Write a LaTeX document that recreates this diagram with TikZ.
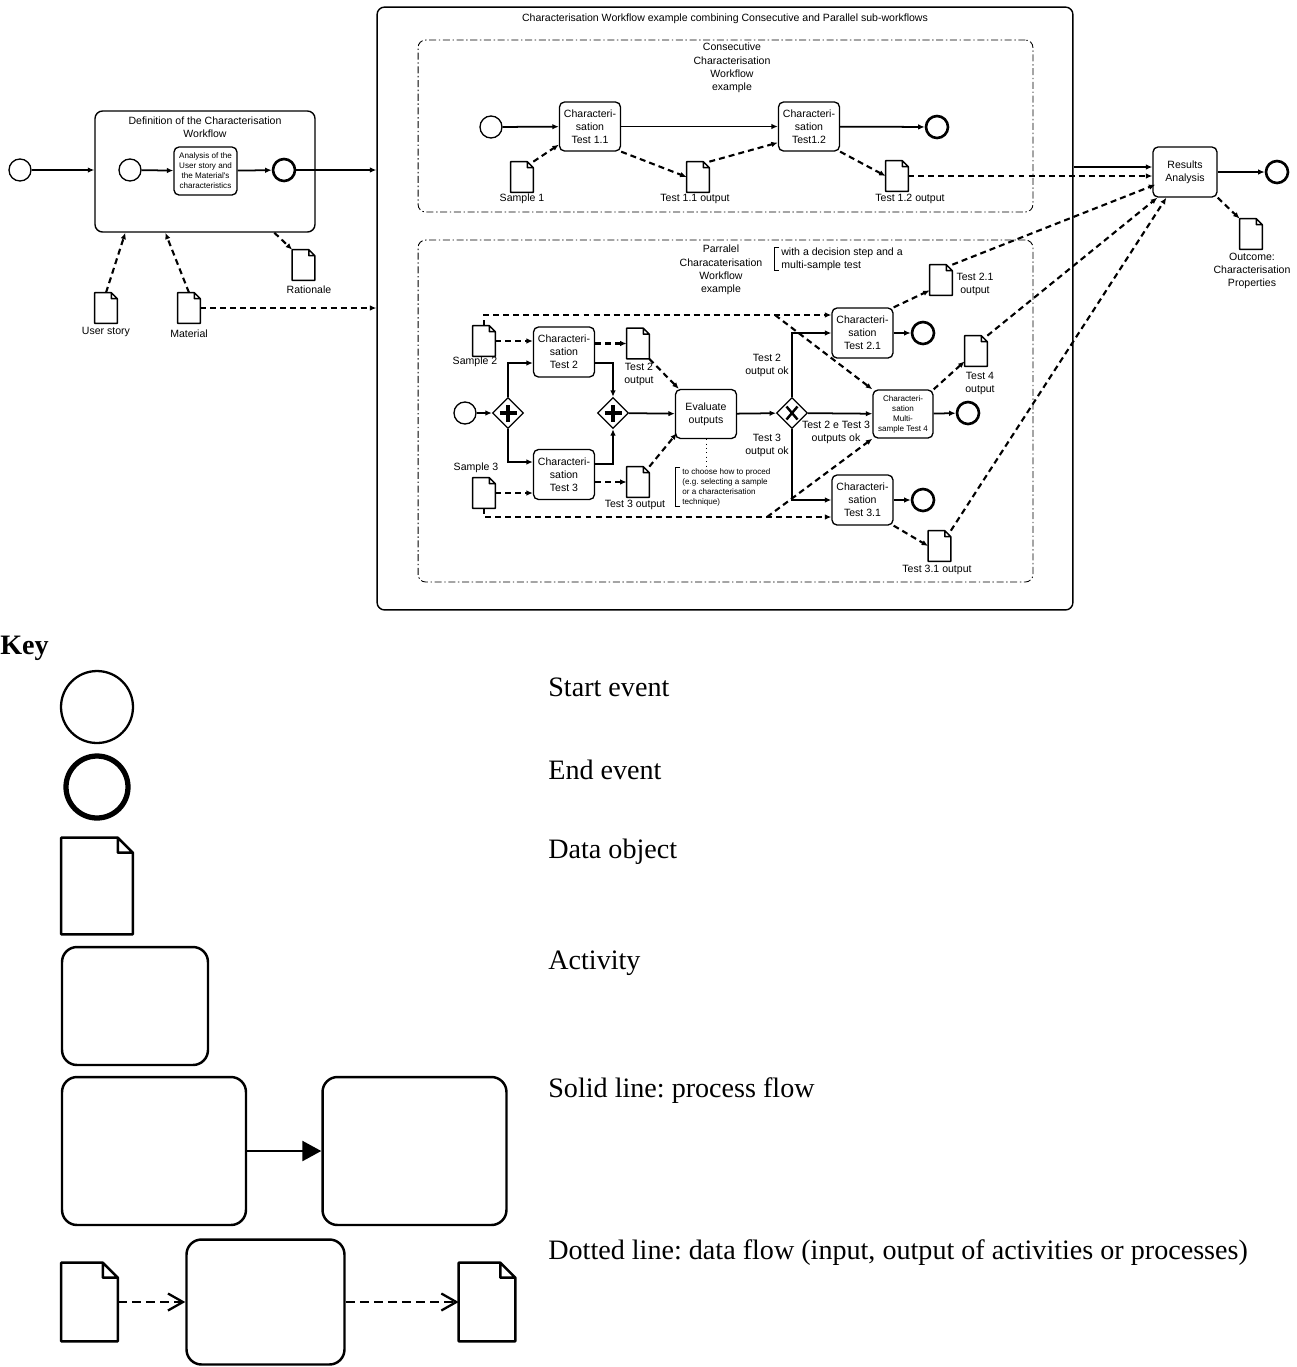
\documentclass[tikz,border=0pt]{standalone}
\usepackage{fontspec}
\setmainfont{Liberation Serif}
\newfontfamily\diagfont{Liberation Sans}
\usetikzlibrary{arrows.meta,positioning,calc,shapes.geometric}
\frenchspacing

\newcommand{\docshape}[3]{%
  \draw[line width=#3,line join=round] (#1.south west) -- (#1.north west)
    -- ([xshift=-#2]#1.north east) -- ([yshift=-#2]#1.north east)
    -- (#1.south east) -- cycle
    ([xshift=-#2]#1.north east) |- ([yshift=-#2]#1.north east);}

\tikzset{
  txt/.style={font=\diagfont\fontsize{6}{7.5}\selectfont,align=center,inner sep=0pt},
  smalltxt/.style={font=\diagfont\fontsize{4.6}{5.7}\selectfont,inner sep=0pt},
  act/.style={txt,draw,line width=.75pt,rounded corners=1mm,inner sep=1pt,minimum width=1.22cm,minimum height=.98cm},
  startev/.style={circle,draw,line width=.75pt,minimum size=.44cm,inner sep=0pt},
  endev/.style={startev,line width=1.5pt},
  gate/.style={diamond,draw,line width=.75pt,minimum size=.62cm,inner sep=0pt},
  andgate/.style={gate,path picture={\draw[line width=1.8pt]
    ([xshift=-1.7mm]path picture bounding box.center) -- ([xshift=1.7mm]path picture bounding box.center)
    ([yshift=-1.7mm]path picture bounding box.center) -- ([yshift=1.7mm]path picture bounding box.center);}},
  xorgate/.style={gate,path picture={\draw[line width=1.4pt]
    ([shift={(-1.1mm,-1.3mm)}]path picture bounding box.center) -- ([shift={(1.1mm,1.3mm)}]path picture bounding box.center)
    ([shift={(-1.1mm,1.3mm)}]path picture bounding box.center) -- ([shift={(1.1mm,-1.3mm)}]path picture bounding box.center);}},
  doc/.style={inner sep=0pt,minimum width=.44cm,minimum height=.6cm,
    append after command={\pgfextra{\docshape{\tikzlastnode}{1.2mm}{.8pt}}}},
  keydoc/.style={inner sep=0pt,
    append after command={\pgfextra{\docshape{\tikzlastnode}{3mm}{1.4pt}}}},
  frame/.style={draw,line width=.8pt,rounded corners=1.5mm,inner sep=0pt},
  subwf/.style={draw,line width=.5pt,rounded corners=1.5mm,inner sep=0pt,dash pattern=on 4pt off 1.5pt on .8pt off 1.5pt},
  keyact/.style={draw,line width=1.4pt,rounded corners=3mm,inner sep=0pt},
  keytxt/.style={anchor=west,inner sep=0pt,font=\fontsize{16}{19}\selectfont},
}

\begin{document}
\begin{tikzpicture}[x=0.02cm,y=-0.02cm,
  flow/.style={-{Latex[length=1.3mm,width=1.1mm]},line width=1pt},
  data/.style={-{Latex[length=1.3mm,width=1.1mm]},line width=1.2pt,dash pattern=on 3.4pt off 2.3pt},
  keydata/.style={-{Straight Barb[length=3mm,width=3.4mm]},line width=1.3pt,dash pattern=on 5pt off 3pt}]
\useasboundingbox (0,0) rectangle (1296,1367);

\node[frame,minimum width=4.4cm,minimum height=2.42cm] (defbox) at (205,171.5) {};
\node[frame,minimum width=13.92cm,minimum height=12.06cm] (wf) at (725,308.5) {};
\node[subwf,minimum width=12.3cm,minimum height=3.44cm] (cons) at (725.5,126) {};
\node[subwf,minimum width=12.3cm,minimum height=6.84cm] (par) at (725.5,411) {};

\node[txt] (deftitle) at (205,127) {Definition of the Characterisation\\Workflow};
\node[txt] (wftitle) at (725,19) {Characterisation Workflow example combining Consecutive and Parallel sub-workflows};
\node[txt] (constitle) at (732,68) {Consecutive\\Characterisation\\Workflow\\example};
\node[txt] (partitle) at (721,270) {Parralel\\Characaterisation\\Workflow\\example};
\node[txt,align=left,anchor=west] (notepar) at (781,259) {with a decision step and a\\multi-sample test};
\draw[line width=.5pt] ([xshift=-1pt]notepar.north west) -| ([xshift=-3.5pt]notepar.west) |- ([xshift=-1pt]notepar.south west);

\node[startev] (s0) at (20,170) {};
\node[startev] (s1) at (130,170) {};
\node[act,smalltxt,minimum width=1.26cm,minimum height=.96cm] (analysis) at (205.5,171) {Analysis of the\\User story and\\the Material's\\characteristics};
\node[endev] (e1) at (284,170) {};
\node[doc] (userstory) at (106,308) {};
\node[txt] (luserstory) at (106,332) {User story};
\node[doc] (material) at (189,308) {};
\node[txt] (lmaterial) at (189,334) {Material};
\node[doc] (rationale) at (303.5,265) {};
\node[txt] (lrationale) at (309,290) {Rationale};

\draw[flow] (s0) -- (s0 -| defbox.west);
\draw[flow] (s1) -- (analysis);
\draw[flow] (analysis) -- (e1);
\draw[flow] (e1) -- (e1 -| wf.west);
\draw[data] (userstory.north) -- ($(defbox.south west)+(31,0)$);
\draw[data] (material.north) -- ($(defbox.south west)+(71,0)$);
\draw[data] ($(defbox.south west)+(180,0)$) -- (rationale.north west);
\draw[data] (material.east) -- (material.east -| wf.west);

\node[startev] (s2) at (491,127) {};
\node[act] (t11) at (590,126.5) {Characteri-\\sation\\Test 1.1};
\node[act] (t12) at (809,126.5) {Characteri-\\sation\\Test1.2};
\node[endev] (e2) at (937,127) {};
\node[doc] (sample1) at (522,177) {};
\node[txt] (lsample1) at (522,199) {Sample 1};
\node[doc] (out11) at (698,177) {};
\node[txt] (lout11) at (695,199) {Test 1.1 output};
\node[doc] (out12) at (897,176) {};
\node[txt] (lout12) at (910,199) {Test 1.2 output};

\draw[flow] (s2) -- (t11);
\draw[flow] (t11) -- (t12);
\draw[flow] (t12) -- (e2);
\draw[data] (sample1.north east) -- ($(t11.south west)+(0,-7)$);
\draw[data] (t11.south east) -- (out11.west);
\draw[data] (out11.north east) -- ($(t12.south west)+(0,-9)$);
\draw[data] (t12.south east) -- (out12.west);

\node[act,minimum width=1.28cm,minimum height=1cm] (res) at (1185,172) {Results\\Analysis};
\node[endev] (e3) at (1277,172) {};
\node[doc] (outcome) at (1251,234) {};
\node[txt] (loutcome) at (1252,271) {Outcome:\\Characterisation\\Properties};
\coordinate (resin) at ($(res.west)+(0,-5)$);
\draw[flow] (resin -| wf.east) -- (resin);
\draw[flow] (res) -- (e3);
\draw[data] (out12.east) -- (out12.east -| res.west);
\draw[data] (res.south east) -- (outcome.north west);

\node[startev] (s3) at (465,413) {};
\node[andgate] (g1) at (508,413) {};
\node[andgate] (g2) at (613,413) {};
\node[act,minimum height=1cm] (t2) at (564,352) {Characteri-\\sation\\Test 2};
\node[act,minimum height=1cm] (t3) at (564,474.5) {Characteri-\\sation\\Test 3};
\node[act] (eval) at (706,414) {Evaluate\\outputs};
\node[xorgate] (g3) at (792,413) {};
\node[act,minimum height=1cm] (t21) at (862.5,333) {Characteri-\\sation\\Test 2.1};
\node[act,smalltxt,align=center,minimum width=1.2cm,minimum height=.96cm] (t4) at (903,414) {Characteri-\\sation\\Multi-\\sample Test 4};
\node[act,minimum height=1cm] (t31) at (862.5,500) {Characteri-\\sation\\Test 3.1};
\node[endev] (e4) at (923,333) {};
\node[endev] (e5) at (968,413) {};
\node[endev] (e6) at (923,500) {};

\node[doc] (sample2) at (484,341) {};
\node[txt] (lsample2) at (475,362) {Sample 2};
\node[doc] (sample3) at (484,493) {};
\node[txt] (lsample3) at (476,468) {Sample 3};
\node[doc] (out2) at (638,343.5) {};
\node[txt] (lout2) at (639,374) {Test 2\\output};
\node[doc] (out3) at (638,482) {};
\node[txt] (lout3) at (635,505) {Test 3 output};
\node[doc] (out21) at (941,280) {};
\node[txt] (lout21) at (975,284.5) {Test 2.1\\output};
\node[doc] (out4) at (976,351) {};
\node[txt] (lout4) at (980,383.5) {Test 4\\output};
\node[doc] (out31) at (939.5,546) {};
\node[txt] (lout31) at (937,570) {Test 3.1 output};

\node[txt] (ok2) at (767,365.5) {Test 2\\output ok};
\node[txt] (ok3) at (767,445.5) {Test 3\\output ok};
\node[txt] (ok23) at (836,432) {Test 2 e Test 3\\outputs ok};
\node[smalltxt,align=left,anchor=west] (noteeval) at (682,487) {to choose how to proced\\(e.g. selecting a sample\\or a characterisation\\technique)};
\draw[line width=.5pt] ([xshift=-1pt]noteeval.north west) -| ([xshift=-3.5pt]noteeval.west) |- ([xshift=-1pt]noteeval.south west);
\draw[dotted,line width=.5pt] (eval.south) -- (eval.south |- noteeval.north);

\draw[flow] (s3) -- (g1);
\draw[flow] (g1.north) |- ($(t2.west)+(0,11)$);
\draw[flow] ($(t2.east)+(0,11)$) -| (g2.north);
\draw[flow] (g1.south) |- ($(t3.west)+(0,-12.5)$);
\draw[flow] ($(t3.east)+(0,-10.5)$) -| (g2.south);
\draw[flow] (g2) -- (eval);
\draw[flow] (eval) -- (g3);
\draw[flow] (g3.north) |- (t21.west);
\draw[flow] (g3) -- (t4);
\draw[flow] (g3.south) |- (t31.west);
\draw[flow] (t21) -- (e4);
\draw[flow] (t4) -- (e5);
\draw[flow] (t31) -- (e6);

\draw[data] (sample2.east) -- (sample2.east -| t2.west);
\draw[data] (t2.east |- out2.west) -- (out2.west);
\draw[data] (out2.south east) -- ($(eval.north west)+(4,0)$);
\draw[data] (sample3.east) -- (sample3.east -| t3.west);
\draw[data] (t3.east |- out3.west) -- (out3.west);
\draw[data] (out3.north east) -- ($(eval.south west)+(2,-6)$);
\coordinate (split2) at (775,315);
\coordinate (split3) at (767,517);
\draw[data] (sample2.north) |- ($(t21.west)+(0,-18)$);
\draw[data] (split2) -- (t4.north west);
\draw[data] (sample3.south) |- ($(t31.west)+(0,17)$);
\draw[data] (split3) -- (t4.south west);
\draw[data] (t21.north east) -- ($(out21.south west)+(0,-5)$);
\draw[data] (t4.north east) -- ($(out4.south west)+(0,-5)$);
\draw[data] (t31.south east) -- (out31.west);
\draw[data] (out21.north east) -- ($(res.south west)+(3,-13)$);
\draw[data] (out4.north east) -- ($(res.south west)+(5,0)$);
\draw[data] (out31.north east) -- ($(res.south west)+(14,0)$);

\node[anchor=west,inner sep=0pt,font=\bfseries\fontsize{16}{19}\selectfont] (keytitle) at (0,648) {Key};
\node[circle,draw,line width=1.3pt,minimum size=1.44cm,inner sep=0pt] (kstart) at (97,707) {};
\node[circle,draw,line width=3pt,minimum size=1.24cm,inner sep=0pt] (kend) at (97,787) {};
\node[keydoc,minimum width=1.42cm,minimum height=1.92cm] (kdoc) at (97,886) {};
\node[keyact,minimum width=2.92cm,minimum height=2.36cm] (kact) at (135,1006) {};
\node[keyact,minimum width=3.68cm,minimum height=2.96cm] (kact1) at (154,1151) {};
\node[keyact,minimum width=3.68cm,minimum height=2.96cm] (kact2) at (414.5,1151) {};
\draw[-{Triangle[length=3.8mm,width=4mm]},line width=1.4pt] (kact1) -- (kact2);
\node[keydoc,minimum width=1.12cm,minimum height=1.56cm] (kdoc1) at (89.5,1302) {};
\node[keyact,minimum width=3.16cm,minimum height=2.5cm] (kact3) at (265.5,1302) {};
\node[keydoc,minimum width=1.12cm,minimum height=1.56cm] (kdoc2) at (487,1302) {};
\draw[keydata] (kdoc1) -- (kact3);
\draw[keydata] (kact3) -- (kdoc2);

\node[keytxt] (lkstart) at (548,687) {Start event};
\node[keytxt] (lkend) at (548,770) {End event};
\node[keytxt] (lkdoc) at (548,852) {Data object};
\node[keytxt] (lkact) at (548,963) {Activity};
\node[keytxt] (lkflow) at (548,1091) {Solid line: process flow};
\node[keytxt] (lkdata) at (548,1253) {Dotted line: data flow (input, output of activities or processes)};
\end{tikzpicture}
\end{document}
